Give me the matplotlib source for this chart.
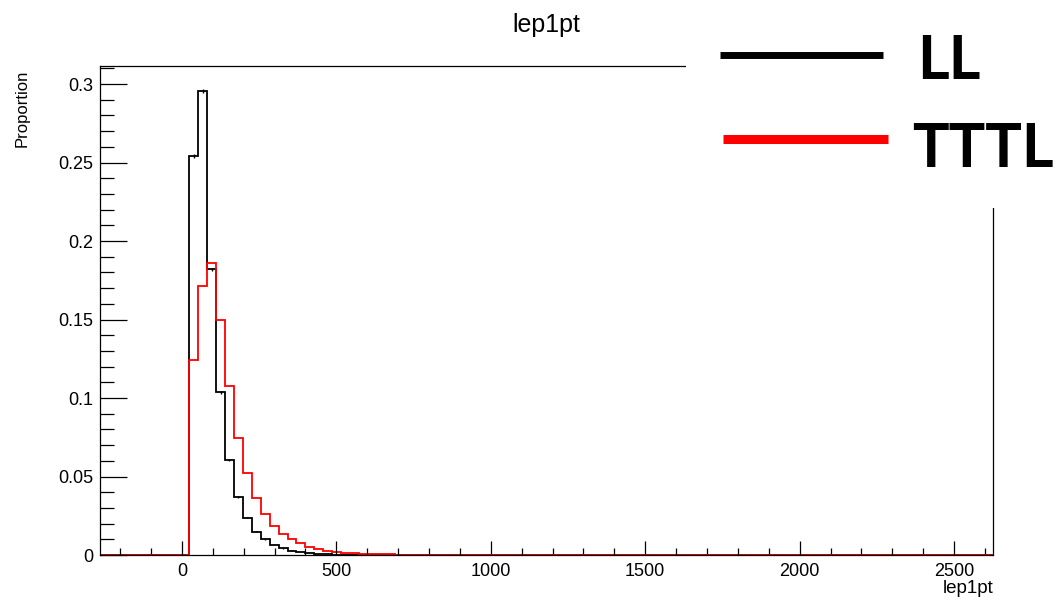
#! /usr/bin/env python

import numpy as np
import matplotlib
matplotlib.use('Agg')
import matplotlib.pyplot as plt
from matplotlib.patches import Rectangle
from matplotlib.lines import Line2D
from matplotlib.ticker import MultipleLocator

plt.rcParams['font.family'] = ['Liberation Sans', 'DejaVu Sans']

### histogram binning (100 bins)
nbins = 100
xlow, xhigh = -265., 2626.
first_bin = 10

### bin contents, starting at first_bin
ll_vals = [0.254, 0.2955, 0.182, 0.1036, 0.0603, 0.0371, 0.0238, 0.0149,
           0.0100, 0.0064, 0.0043, 0.0028, 0.0017, 0.0011, 0.0007, 0.0005,
           0.0003, 0.0002, 0.00015, 0.0001, 0.00007, 0.00005, 0.00003,
           0.00002, 0.00001]
ll_errs = [0.0012, 0.0013, 0.0010, 0.0008, 0.0006, 0.0005, 0.0004, 0.0003,
           0.0003, 0.0002, 0.0002, 0.0001, 0.0001]
tttl_vals = [0.1242, 0.1713, 0.1862, 0.1499, 0.1076, 0.0747, 0.0524, 0.0365,
             0.0259, 0.0185, 0.0136, 0.0100, 0.0074, 0.0053, 0.0038, 0.0028,
             0.0021, 0.0015, 0.0011, 0.0008, 0.0006, 0.0005, 0.0004, 0.0003,
             0.0002, 0.0002, 0.00015, 0.0001, 0.0001, 0.00008, 0.00006,
             0.00005, 0.00004, 0.00003, 0.00002, 0.00002, 0.00001]

labels = ['LL', 'TTTL']
colors = ['black', 'red']

### fill full histograms
edges = np.linspace(xlow, xhigh, nbins + 1)
centers = 0.5 * (edges[1:] + edges[:-1])
ll = np.zeros(nbins)
ll[first_bin:first_bin + len(ll_vals)] = ll_vals
tttl = np.zeros(nbins)
tttl[first_bin:first_bin + len(tttl_vals)] = tttl_vals

### define plot
fig = plt.figure(figsize=(10.58, 6.0), dpi=100)
ax = fig.add_axes([100/1058, 45/600, 893/1058, 489/600])

ax.stairs(ll, edges, color=colors[0], linewidth=1.3, baseline=None)
nerr = len(ll_errs)
ax.errorbar(centers[first_bin:first_bin + nerr], ll[first_bin:first_bin + nerr],
            yerr=ll_errs, fmt='none', ecolor=colors[0], elinewidth=1.0)
ax.stairs(tttl, edges, color=colors[1], linewidth=1.3, baseline=None)

ax.set_xlim(xlow, xhigh)
ax.set_ylim(0., 0.3115)

### ROOT-like axes
ax.xaxis.set_major_locator(MultipleLocator(500))
ax.xaxis.set_minor_locator(MultipleLocator(100))
ax.yaxis.set_major_locator(MultipleLocator(0.05))
ax.yaxis.set_minor_locator(MultipleLocator(0.01))
ax.set_yticks([0, 0.05, 0.1, 0.15, 0.2, 0.25, 0.3])
ax.set_yticklabels(['0', '0.05', '0.1', '0.15', '0.2', '0.25', '0.3'])
ax.tick_params(axis='both', which='both', direction='in', top=False, right=False,
               labelsize=13, width=0.9, color='black')
ax.tick_params(axis='x', which='major', length=10, pad=6)
ax.tick_params(axis='x', which='minor', length=5)
ax.tick_params(axis='y', which='major', length=19.5, pad=5)
ax.tick_params(axis='y', which='minor', length=10)
for sp in ax.spines.values():
    sp.set_linewidth(0.9)

### texts
fig.text(546/1058, 1 - 25/600, 'lep1pt', ha='center', va='center', fontsize=18)
fig.text(22/1058, 1 - 70/600, 'Proportion', rotation=90, ha='center', va='top',
         fontsize=12)
fig.text(994/1058, 1 - 580/600, 'lep1pt', ha='right', va='top', fontsize=13.5)

### legend box pasted over the corner
fig.add_artist(Rectangle((686/1058, 1 - 208/600), 1 - 686/1058, 208/600,
                         transform=fig.transFigure, facecolor='white',
                         edgecolor='none', zorder=5))
fig.add_artist(Line2D([720/1058, 883/1058], [1 - 55/600, 1 - 55/600],
                      transform=fig.transFigure, color=colors[0],
                      linewidth=5, solid_capstyle='butt', zorder=6))
fig.add_artist(Line2D([723/1058, 888/1058], [1 - 139/600, 1 - 139/600],
                      transform=fig.transFigure, color=colors[1],
                      linewidth=6.5, solid_capstyle='butt', zorder=6))
fig.text(917/1058, 1 - 79/600, labels[0], ha='left', va='baseline',
         fontsize=44, fontweight='bold', family=['Lato', 'DejaVu Sans'], zorder=7)
fig.text(912/1058, 1 - 167/600, labels[1], ha='left', va='baseline',
         fontsize=44, fontweight='bold', family=['Lato', 'DejaVu Sans'], zorder=7)

plt.savefig('out.png', dpi=100)
